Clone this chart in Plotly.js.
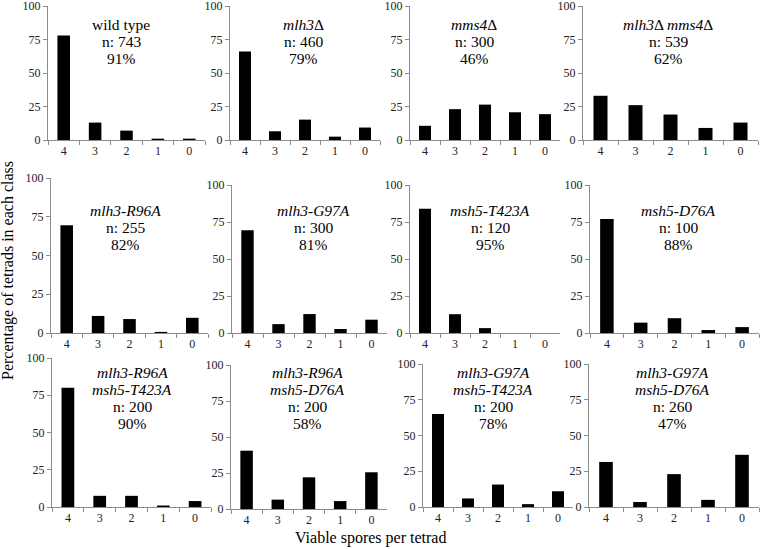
<!DOCTYPE html>
<html><head><meta charset="utf-8">
<script src="https://cdn.plot.ly/plotly-3.0.1.min.js"></script>
<style>
html,body{margin:0;padding:0;background:#fff}
#chart{width:760px;height:549px}
#chart svg text{font-family:"Liberation Serif","Times New Roman",Times,"DejaVu Serif",serif !important}
</style>
</head><body><div id="chart"></div>
<script>
// ---- data ----
const sporeClasses = ["4", "3", "2", "1", "0"];
const wildType      = [78, 13, 7, 1, 1];
const mlh3Del       = [66, 6.5, 15.2, 2.5, 9.3];
const mms4Del       = [10.6, 23, 26.4, 20.7, 19.3];
const mlh3Mms4Del   = [33, 26, 19, 9, 13];
const mlh3R96A      = [69.5, 11, 9, 0.7, 9.8];
const mlh3G97A      = [69.5, 6, 12.8, 2.7, 9];
const msh5T423A     = [84, 12.7, 3.3, 0, 0];
const msh5D76A      = [77, 7, 10, 2, 4];
const r96aT423A     = [80, 7.5, 7.5, 1, 4];
const r96aD76A      = [40.5, 6.5, 22, 5.5, 25.5];
const g97aT423A     = [65, 6, 15.7, 2, 11];
const g97aD76A      = [31.5, 3.5, 23, 5, 36.5];
const genotypeNames = [
  ["wild type"], ["<i>mlh3</i>Δ"], ["<i>mms4</i>Δ"], ["<i>mlh3</i>Δ <i>mms4</i>Δ"],
  ["<i>mlh3-R96A</i>"], ["<i>mlh3-G97A</i>"], ["<i>msh5-T423A</i>"], ["<i>msh5-D76A</i>"],
  ["<i>mlh3-R96A</i>", "<i>msh5-T423A</i>"], ["<i>mlh3-R96A</i>", "<i>msh5-D76A</i>"],
  ["<i>mlh3-G97A</i>", "<i>msh5-T423A</i>"], ["<i>mlh3-G97A</i>", "<i>msh5-D76A</i>"]
];
const tetradCounts   = [743, 460, 300, 539, 255, 300, 120, 100, 200, 200, 200, 260];
const sporeViability = [91, 79, 46, 62, 82, 81, 95, 88, 90, 58, 78, 47];
const yTicks = [0, 25, 50, 75, 100];

const seriesList = [wildType, mlh3Del, mms4Del, mlh3Mms4Del, mlh3R96A, mlh3G97A,
  msh5T423A, msh5D76A, r96aT423A, r96aD76A, g97aT423A, g97aD76A];

// ---- layout geometry (pixels): [left, right, top, bottom] of each plot area ----
const W = 760, H = 549;
const boxes = [
  [48, 205, 6, 140], [230, 380, 6, 140], [410, 560, 6, 140], [583, 758, 6, 140],
  [51, 208, 178, 333], [232, 387, 185, 333], [410, 560, 185, 333], [590, 759, 185, 333],
  [52, 211, 358, 507], [231, 387, 365, 509], [423, 573, 364, 507], [589, 759, 364, 507]
];
// title center x and first line y
const titlePos = [
  [121, 24], [303, 24], [474, 24], [668, 24],
  [126, 210], [313, 210], [490, 210], [678, 210],
  [132, 372], [307, 372], [493, 372], [672, 372]
];
const lineStep = 17.2;

const serif = "Liberation Serif, Times New Roman, serif";
const axisGray = "#8c8c8c";

const traces = [];
const layout = {
  width: W, height: H,
  margin: {l: 0, r: 0, t: 0, b: 0},
  paper_bgcolor: "#fff", plot_bgcolor: "#fff",
  showlegend: false,
  bargap: 0.6,
  font: {family: serif, color: "#000"},
  annotations: []
};

seriesList.forEach((vals, i) => {
  const n = i + 1;
  const xa = n === 1 ? "x" : "x" + n;
  const ya = n === 1 ? "y" : "y" + n;
  traces.push({
    type: "bar", x: sporeClasses, y: vals, xaxis: xa, yaxis: ya,
    marker: {color: "#000", line: {width: 0}}, hoverinfo: "skip"
  });
  const b = boxes[i];
  layout[n === 1 ? "xaxis" : "xaxis" + n] = {
    domain: [b[0] / W, b[1] / W], anchor: ya,
    type: "category", categoryorder: "array", categoryarray: sporeClasses,
    showline: true, linecolor: axisGray, linewidth: 1,
    ticks: "outside", tickson: "boundaries", ticklen: 4, tickcolor: axisGray,
    showgrid: false, zeroline: false, fixedrange: true,
    ticklabeloverflow: "allow",
    tickfont: {family: serif, size: 12, color: "#222"}
  };
  layout[n === 1 ? "yaxis" : "yaxis" + n] = {
    domain: [1 - b[3] / H, 1 - b[2] / H], anchor: xa,
    range: [0, 100], tickvals: yTicks, ticktext: yTicks.map(String),
    showline: true, linecolor: axisGray, linewidth: 1,
    ticks: "outside", ticklen: 4, tickcolor: axisGray,
    showgrid: false, zeroline: false, fixedrange: true,
    ticklabeloverflow: "allow",
    tickfont: {family: serif, size: 12, color: "#222"}
  };
  const lines = genotypeNames[i].concat(["n: " + tetradCounts[i], sporeViability[i] + "%"]);
  const tp = titlePos[i];
  lines.forEach((txt, k) => {
    layout.annotations.push({
      xref: "paper", yref: "paper",
      x: tp[0] / W, y: 1 - (tp[1] + k * lineStep) / H,
      xanchor: "center", yanchor: "middle", showarrow: false,
      text: txt, font: {family: serif, size: 15.5, color: "#000"}
    });
  });
});

// axis titles
layout.annotations.push({
  xref: "paper", yref: "paper", x: 8 / W, y: 1 - 271 / H,
  xanchor: "center", yanchor: "middle", showarrow: false, textangle: -90,
  text: "Percentage of tetrads in each class", font: {family: serif, size: 16, color: "#000"}
});
layout.annotations.push({
  xref: "paper", yref: "paper", x: 370 / W, y: 1 - 538 / H,
  xanchor: "center", yanchor: "middle", showarrow: false,
  text: "Viable spores per tetrad", font: {family: serif, size: 16, color: "#000"}
});

Plotly.newPlot("chart", traces, layout, {displayModeBar: false, staticPlot: true});
</script></body></html>
